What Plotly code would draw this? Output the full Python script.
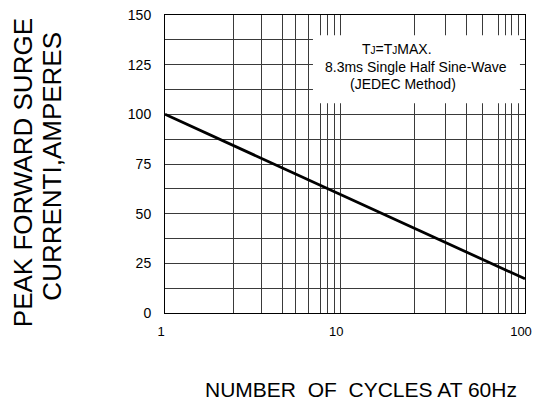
import plotly.graph_objects as go

# Data
cycles = [1, 9.41, 100]
surge_current = [100, 59.8, 17.2]

# Vertical grid positions as drawn in the reference (log axis values)
x_grid = [2.40, 3.42, 4.52, 5.34, 6.27, 7.28, 8.00, 8.75, 9.41,
          24.4, 36.0, 47.3, 58.3, 71.0, 77.9, 84.1, 91.6]
x_tick_vals = [1, 9.41, 100]
x_tick_text = ["1", "10", "100"]
y_tick_vals = [0, 25, 50, 75, 100, 125, 150]

FONT = "Liberation Sans, Arial, sans-serif"
GRID = "#3a3a3a"

fig = go.Figure()
fig.add_trace(go.Scatter(
    x=cycles, y=surge_current, mode="lines",
    line=dict(color="black", width=2.8),
    showlegend=False, hoverinfo="skip",
))

fig.update_layout(
    width=541, height=408,
    margin=dict(l=165, r=16, t=7, b=95),
    paper_bgcolor="white", plot_bgcolor="white",
    font=dict(family=FONT, color="black"),
    showlegend=False,
)

fig.update_xaxes(
    type="log", range=[0, 2],
    tickmode="array", tickvals=x_tick_vals, ticktext=x_tick_text,
    tickfont=dict(size=13, family=FONT, color="black"),
    ticks="", ticklabelstandoff=6, ticklabelshift=-4,
    ticklabeloverflow="allow",
    showgrid=True, gridcolor=GRID, gridwidth=1,
    minor=dict(tickmode="array", tickvals=x_grid, showgrid=True,
               gridcolor=GRID, gridwidth=1, ticks=""),
    showline=True, linecolor="black", linewidth=1, mirror=True,
    zeroline=False,
)

fig.update_yaxes(
    range=[0, 150],
    tickmode="array", tickvals=y_tick_vals,
    tickfont=dict(size=14, family=FONT, color="black"),
    ticks="", ticklabelstandoff=10,
    ticklabeloverflow="allow",
    showgrid=True, gridcolor=GRID, gridwidth=1,
    minor=dict(dtick=12.5, showgrid=True, gridcolor=GRID, gridwidth=1, ticks=""),
    showline=True, linecolor="black", linewidth=1, mirror=True,
    zeroline=False,
)

# White box behind the condition text
fig.add_shape(type="rect", xref="paper", yref="paper",
              x0=0.411, x1=0.986, y0=0.7036, y1=0.932,
              fillcolor="white", line=dict(width=0), layer="above")

BOX_FONT = dict(size=14, family=FONT, color="black")
fig.add_annotation(xref="paper", yref="paper", x=0.644, y=0.885,
                   text="T<span style='font-size:10px'>J</span>=T<span style='font-size:10px'>J</span>MAX.",
                   showarrow=False, font=BOX_FONT, xanchor="center", yanchor="middle")
fig.add_annotation(xref="paper", yref="paper", x=0.697, y=0.825,
                   text="8.3ms Single Half Sine-Wave",
                   showarrow=False, font=BOX_FONT, xanchor="center", yanchor="middle")
fig.add_annotation(xref="paper", yref="paper", x=0.661, y=0.768,
                   text="(JEDEC Method)",
                   showarrow=False, font=BOX_FONT, xanchor="center", yanchor="middle")

# Axis titles
fig.add_annotation(xref="paper", yref="paper", x=-0.3925, y=0.4716,
                   text="PEAK FORWARD SURGE", textangle=-90,
                   showarrow=False, font=dict(size=26, family=FONT, color="black"),
                   xanchor="center", yanchor="middle")
fig.add_annotation(xref="paper", yref="paper", x=-0.3125, y=0.4928,
                   text="CURRENTI,AMPERES", textangle=-90,
                   showarrow=False, font=dict(size=26, family=FONT, color="black"),
                   xanchor="center", yanchor="middle")
fig.add_annotation(xref="paper", yref="paper", x=-0.544 + 1.088, y=-0.257,
                   text="NUMBER\u00a0 OF\u00a0 CYCLES AT 60Hz",
                   showarrow=False, font=dict(size=21, family=FONT, color="black"),
                   xanchor="center", yanchor="middle")

fig.write_html("out.html",
               config={"displayModeBar": False},
               post_script="document.body.style.margin='0px';document.body.style.overflow='hidden';")
